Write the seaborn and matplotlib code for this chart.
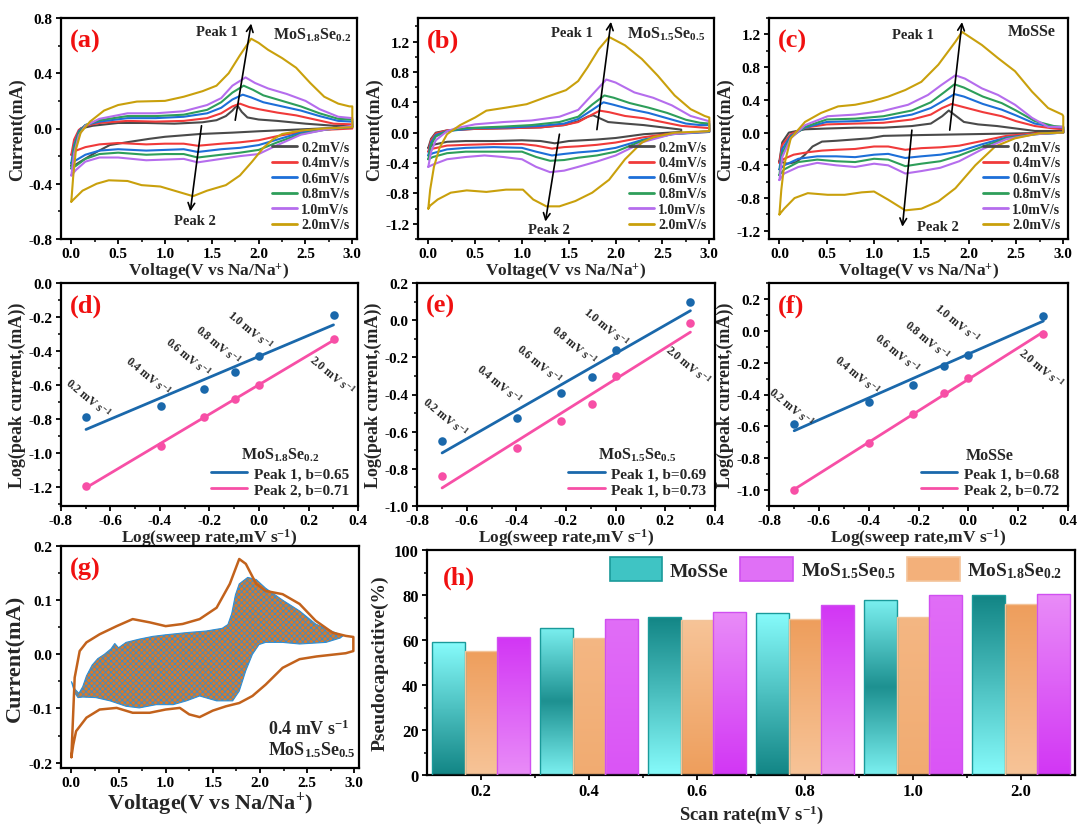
import numpy as np
import pandas as pd
import matplotlib
matplotlib.use("Agg")
import matplotlib.pyplot as plt
import seaborn as sns
from matplotlib.lines import Line2D
from matplotlib.patches import Patch
from matplotlib.colors import LinearSegmentedColormap
from matplotlib.ticker import MultipleLocator, FormatStrFormatter

# ---------------------------------------------------------------- data
RATE_LABELS = ["0.2mV/s", "0.4mV/s", "0.6mV/s", "0.8mV/s", "1.0mV/s", "2.0mV/s"]
SCAN_RATES = [0.2, 0.4, 0.6, 0.8, 1.0, 2.0]

# Cyclic voltammograms (V, mA): anodic sweep followed by cathodic sweep
A_02 = [(0, -0.27), (0.04, -0.12), (0.1, 0.0), (0.23, 0.02), (0.5, 0.04), (0.8, 0.04), (1.1, 0.035),
        (1.4, 0.045), (1.55, 0.06), (1.65, 0.09), (1.72, 0.13), (1.77, 0.17), (1.82, 0.12), (1.88, 0.08),
        (2.0, 0.065), (2.2, 0.055), (2.5, 0.035), (2.8, 0.02), (3.0, 0.02),
        (3.0, 0.01), (2.5, -0.005), (2.0, -0.02), (1.72, -0.03), (1.37, -0.04), (1.0, -0.06), (0.83, -0.075),
        (0.59, -0.1), (0.41, -0.12), (0.27, -0.17), (0.12, -0.23), (0.05, -0.26), (0, -0.27)]
A_04 = [(0, -0.19), (0.03, -0.08), (0.08, -0.01), (0.15, 0.02), (0.3, 0.04), (0.6, 0.055), (0.9, 0.05),
        (1.2, 0.055), (1.45, 0.075), (1.6, 0.11), (1.72, 0.16), (1.8, 0.18), (1.9, 0.155), (2.0, 0.14),
        (2.2, 0.115), (2.4, 0.095), (2.6, 0.065), (2.8, 0.035), (3.0, 0.03),
        (3.0, 0.0), (2.7, -0.01), (2.4, -0.03), (2.2, -0.055), (2.0, -0.085), (1.8, -0.1), (1.6, -0.11),
        (1.35, -0.125), (1.2, -0.11), (1.0, -0.11), (0.8, -0.115), (0.5, -0.105), (0.3, -0.115),
        (0.15, -0.135), (0.05, -0.16), (0, -0.19)]
A_06 = [(0, -0.25), (0.03, -0.12), (0.08, -0.02), (0.15, 0.025), (0.3, 0.05), (0.6, 0.075), (0.9, 0.075),
        (1.2, 0.085), (1.45, 0.11), (1.6, 0.15), (1.72, 0.21), (1.83, 0.245), (1.92, 0.225), (2.05, 0.19),
        (2.25, 0.16), (2.45, 0.13), (2.65, 0.09), (2.85, 0.055), (3.0, 0.05),
        (3.0, 0.01), (2.7, -0.005), (2.45, -0.03), (2.2, -0.08), (2.0, -0.12), (1.8, -0.14), (1.6, -0.15),
        (1.35, -0.17), (1.2, -0.15), (1.0, -0.155), (0.8, -0.16), (0.5, -0.15), (0.3, -0.16),
        (0.15, -0.19), (0.05, -0.23), (0, -0.25)]
A_08 = [(0, -0.29), (0.03, -0.14), (0.08, -0.03), (0.15, 0.025), (0.3, 0.06), (0.6, 0.09), (0.9, 0.09),
        (1.2, 0.1), (1.45, 0.135), (1.6, 0.19), (1.72, 0.26), (1.84, 0.31), (1.94, 0.28), (2.05, 0.24),
        (2.25, 0.2), (2.45, 0.16), (2.65, 0.11), (2.85, 0.07), (3.0, 0.065),
        (3.0, 0.015), (2.7, -0.01), (2.45, -0.04), (2.2, -0.1), (2.0, -0.155), (1.8, -0.175), (1.6, -0.19),
        (1.35, -0.21), (1.2, -0.185), (1.0, -0.185), (0.8, -0.19), (0.5, -0.175), (0.3, -0.185),
        (0.15, -0.22), (0.05, -0.27), (0, -0.29)]
A_10 = [(0, -0.34), (0.03, -0.18), (0.08, -0.05), (0.15, 0.02), (0.3, 0.07), (0.6, 0.11), (0.9, 0.11),
        (1.2, 0.125), (1.45, 0.17), (1.6, 0.22), (1.72, 0.31), (1.86, 0.37), (1.96, 0.33), (2.1, 0.29),
        (2.3, 0.25), (2.5, 0.2), (2.65, 0.14), (2.85, 0.085), (3.0, 0.075),
        (3.0, 0.02), (2.7, -0.01), (2.45, -0.045), (2.2, -0.12), (2.0, -0.185), (1.8, -0.2), (1.6, -0.22),
        (1.35, -0.245), (1.2, -0.22), (1.0, -0.225), (0.8, -0.23), (0.5, -0.21), (0.3, -0.21),
        (0.15, -0.24), (0.05, -0.3), (0, -0.34)]
A_20 = [(0, -0.53), (0.02, -0.35), (0.05, -0.15), (0.1, -0.03), (0.2, 0.05), (0.35, 0.13), (0.5, 0.17),
        (0.7, 0.195), (1.0, 0.2), (1.2, 0.23), (1.4, 0.27), (1.55, 0.31), (1.68, 0.4), (1.8, 0.53),
        (1.92, 0.65), (2.0, 0.62), (2.1, 0.57), (2.25, 0.51), (2.4, 0.44), (2.55, 0.33), (2.7, 0.23),
        (2.85, 0.18), (2.97, 0.16), (3.0, 0.16),
        (3.0, 0.01), (2.7, 0.0), (2.45, -0.015), (2.25, -0.04), (2.15, -0.08), (2.05, -0.14), (1.93, -0.24),
        (1.8, -0.34), (1.65, -0.41), (1.45, -0.45), (1.3, -0.49), (1.15, -0.46), (0.95, -0.42),
        (0.75, -0.41), (0.6, -0.38), (0.4, -0.375), (0.27, -0.4), (0.12, -0.45), (0.03, -0.51), (0, -0.53)]

B_02 = [(0, -0.2), (0.03, -0.08), (0.08, 0.0), (0.2, 0.03), (0.5, 0.05), (0.9, 0.06), (1.2, 0.07),
        (1.45, 0.1), (1.6, 0.15), (1.7, 0.21), (1.76, 0.23), (1.83, 0.19), (1.92, 0.14), (2.1, 0.12),
        (2.3, 0.1), (2.5, 0.07), (2.7, 0.04),
        (2.7, 0.01), (2.3, -0.02), (2.0, -0.07), (1.8, -0.09), (1.5, -0.11), (1.35, -0.14), (1.2, -0.11),
        (1.0, -0.1), (0.7, -0.11), (0.4, -0.11), (0.2, -0.12), (0.05, -0.16), (0, -0.2)]
B_04 = [(0, -0.25), (0.03, -0.1), (0.08, -0.01), (0.2, 0.03), (0.5, 0.05), (0.9, 0.06), (1.2, 0.07),
        (1.45, 0.1), (1.6, 0.14), (1.72, 0.22), (1.83, 0.29), (1.93, 0.27), (2.1, 0.22), (2.3, 0.19),
        (2.5, 0.14), (2.7, 0.09), (2.9, 0.07), (3.0, 0.06),
        (3.0, 0.01), (2.6, -0.01), (2.3, -0.06), (2.0, -0.13), (1.8, -0.16), (1.6, -0.18), (1.45, -0.19),
        (1.32, -0.21), (1.15, -0.17), (1.0, -0.15), (0.7, -0.15), (0.4, -0.16), (0.2, -0.17),
        (0.05, -0.21), (0, -0.25)]
B_06 = [(0, -0.3), (0.03, -0.13), (0.08, -0.03), (0.2, 0.02), (0.5, 0.06), (0.9, 0.07), (1.2, 0.09),
        (1.45, 0.12), (1.6, 0.18), (1.75, 0.3), (1.87, 0.4), (1.97, 0.37), (2.15, 0.31), (2.35, 0.26),
        (2.55, 0.19), (2.75, 0.12), (2.9, 0.1), (3.0, 0.1),
        (3.0, 0.01), (2.6, -0.02), (2.3, -0.09), (2.0, -0.2), (1.8, -0.24), (1.6, -0.26), (1.45, -0.28),
        (1.32, -0.3), (1.15, -0.25), (1.0, -0.2), (0.7, -0.19), (0.4, -0.2), (0.2, -0.22),
        (0.05, -0.27), (0, -0.3)]
B_08 = [(0, -0.35), (0.03, -0.16), (0.08, -0.05), (0.2, 0.02), (0.4, 0.06), (0.8, 0.08), (1.1, 0.1),
        (1.4, 0.14), (1.6, 0.21), (1.75, 0.37), (1.88, 0.49), (1.98, 0.46), (2.15, 0.39), (2.35, 0.33),
        (2.55, 0.26), (2.75, 0.17), (2.9, 0.13), (3.0, 0.12),
        (3.0, 0.02), (2.6, -0.02), (2.3, -0.1), (2.0, -0.25), (1.8, -0.3), (1.6, -0.33), (1.45, -0.36),
        (1.3, -0.37), (1.15, -0.32), (1.0, -0.25), (0.7, -0.25), (0.4, -0.25), (0.2, -0.27),
        (0.05, -0.32), (0, -0.35)]
B_10 = [(0, -0.45), (0.03, -0.25), (0.08, -0.1), (0.2, 0.02), (0.3, 0.06), (0.5, 0.11), (0.8, 0.14),
        (1.1, 0.16), (1.4, 0.21), (1.6, 0.3), (1.75, 0.5), (1.9, 0.7), (2.0, 0.66), (2.2, 0.53),
        (2.4, 0.46), (2.6, 0.36), (2.8, 0.22), (3.0, 0.15),
        (3.0, 0.02), (2.6, -0.02), (2.3, -0.12), (2.0, -0.3), (1.8, -0.38), (1.6, -0.45), (1.45, -0.5),
        (1.3, -0.52), (1.15, -0.45), (1.0, -0.35), (0.8, -0.32), (0.6, -0.3), (0.4, -0.32), (0.2, -0.35),
        (0.05, -0.42), (0, -0.45)]
B_20 = [(0, -1.0), (0.02, -0.75), (0.06, -0.45), (0.12, -0.2), (0.2, -0.02), (0.34, 0.1), (0.5, 0.2),
        (0.62, 0.29), (0.83, 0.33), (1.05, 0.375), (1.26, 0.47), (1.47, 0.56), (1.6, 0.68), (1.7, 0.86),
        (1.82, 1.1), (1.93, 1.26), (2.1, 1.15), (2.28, 0.97), (2.45, 0.75), (2.63, 0.49), (2.8, 0.31),
        (2.95, 0.22), (3.0, 0.2),
        (3.0, 0.02), (2.63, 0.0), (2.4, -0.06), (2.28, -0.13), (2.1, -0.35), (1.93, -0.62), (1.75, -0.79),
        (1.57, -0.9), (1.4, -0.97), (1.26, -0.97), (1.12, -0.88), (1.01, -0.75), (0.83, -0.75),
        (0.62, -0.78), (0.41, -0.76), (0.24, -0.79), (0.1, -0.88), (0.02, -0.96), (0, -1.0)]

C_02 = [(0, -0.35), (0.03, -0.12), (0.1, 0.0), (0.27, 0.04), (0.5, 0.05), (0.8, 0.06), (1.1, 0.06),
        (1.4, 0.08), (1.6, 0.11), (1.72, 0.2), (1.79, 0.27), (1.87, 0.2), (1.95, 0.13), (2.1, 0.1),
        (2.3, 0.08), (2.5, 0.05), (2.7, 0.02), (3.0, 0.02),
        (3.0, 0.0), (2.5, -0.01), (2.0, -0.02), (1.5, -0.03), (1.1, -0.04), (0.95, -0.07), (0.6, -0.1),
        (0.45, -0.11), (0.35, -0.17), (0.27, -0.27), (0.18, -0.36), (0.08, -0.38), (0, -0.35)]
C_04 = [(0, -0.37), (0.03, -0.15), (0.12, -0.02), (0.27, 0.06), (0.5, 0.1), (0.8, 0.11), (1.1, 0.12),
        (1.4, 0.16), (1.6, 0.22), (1.72, 0.3), (1.82, 0.35), (1.95, 0.31), (2.15, 0.25), (2.35, 0.2),
        (2.5, 0.14), (2.7, 0.08), (2.9, 0.05), (3.0, 0.04),
        (3.0, 0.0), (2.7, -0.01), (2.4, -0.04), (2.15, -0.1), (1.9, -0.16), (1.7, -0.18), (1.5, -0.19),
        (1.33, -0.21), (1.15, -0.17), (1.0, -0.17), (0.8, -0.2), (0.6, -0.21), (0.45, -0.22),
        (0.3, -0.24), (0.15, -0.27), (0.05, -0.32), (0, -0.37)]
C_06 = [(0, -0.45), (0.03, -0.2), (0.12, -0.04), (0.27, 0.06), (0.5, 0.13), (0.8, 0.14), (1.1, 0.16),
        (1.4, 0.22), (1.6, 0.3), (1.75, 0.4), (1.85, 0.47), (1.95, 0.44), (2.15, 0.35), (2.35, 0.28),
        (2.5, 0.21), (2.7, 0.11), (2.9, 0.07), (3.0, 0.06),
        (3.0, 0.0), (2.7, -0.02), (2.4, -0.06), (2.15, -0.14), (1.9, -0.23), (1.7, -0.27), (1.5, -0.29),
        (1.33, -0.31), (1.15, -0.26), (1.0, -0.27), (0.8, -0.3), (0.6, -0.29), (0.4, -0.29),
        (0.2, -0.32), (0.05, -0.4), (0, -0.45)]
C_08 = [(0, -0.52), (0.03, -0.25), (0.12, -0.06), (0.27, 0.07), (0.5, 0.16), (0.8, 0.17), (1.1, 0.2),
        (1.4, 0.27), (1.6, 0.37), (1.75, 0.5), (1.85, 0.59), (1.95, 0.55), (2.15, 0.44), (2.35, 0.36),
        (2.5, 0.27), (2.7, 0.14), (2.9, 0.08), (3.0, 0.07),
        (3.0, 0.0), (2.7, -0.02), (2.4, -0.07), (2.15, -0.17), (1.9, -0.28), (1.7, -0.35), (1.5, -0.38),
        (1.33, -0.41), (1.15, -0.33), (1.0, -0.32), (0.8, -0.36), (0.6, -0.35), (0.4, -0.33),
        (0.2, -0.36), (0.05, -0.45), (0, -0.52)]
C_10 = [(0, -0.58), (0.03, -0.3), (0.12, -0.07), (0.27, 0.09), (0.51, 0.2), (0.8, 0.22), (1.08, 0.26),
        (1.36, 0.34), (1.57, 0.46), (1.71, 0.58), (1.86, 0.7), (1.96, 0.66), (2.14, 0.54), (2.31, 0.46),
        (2.49, 0.34), (2.67, 0.18), (2.84, 0.07), (3.0, 0.07),
        (3.0, 0.0), (2.7, -0.02), (2.4, -0.08), (2.15, -0.2), (1.9, -0.35), (1.7, -0.43), (1.5, -0.47),
        (1.33, -0.5), (1.15, -0.4), (1.0, -0.38), (0.8, -0.42), (0.6, -0.4), (0.4, -0.37), (0.2, -0.42),
        (0.05, -0.5), (0, -0.58)]
C_20 = [(0, -1.0), (0.02, -0.7), (0.05, -0.4), (0.12, -0.07), (0.27, 0.13), (0.44, 0.24), (0.62, 0.32),
        (0.8, 0.34), (0.97, 0.38), (1.15, 0.44), (1.33, 0.52), (1.5, 0.62), (1.68, 0.83), (1.86, 1.11),
        (1.93, 1.23), (2.14, 1.07), (2.31, 0.91), (2.49, 0.75), (2.67, 0.5), (2.84, 0.3), (2.99, 0.22),
        (3.0, 0.2),
        (3.0, 0.0), (2.74, -0.01), (2.49, -0.07), (2.28, -0.17), (2.07, -0.4), (1.86, -0.68), (1.68, -0.84),
        (1.5, -0.93), (1.33, -0.95), (1.15, -0.82), (1.0, -0.72), (0.87, -0.73), (0.69, -0.76),
        (0.51, -0.76), (0.3, -0.74), (0.16, -0.8), (0.05, -0.93), (0, -1.0)]

# log(peak current) for each sample
D_PEAK1 = [-0.79, -0.72, -0.62, -0.52, -0.43, -0.19]
D_PEAK2 = [-1.19, -0.96, -0.79, -0.68, -0.60, -0.33]
E_PEAK1 = [-0.65, -0.525, -0.39, -0.305, -0.16, 0.10]
E_PEAK2 = [-0.84, -0.69, -0.54, -0.45, -0.30, -0.015]
F_PEAK1 = [-0.585, -0.445, -0.34, -0.22, -0.15, 0.095]
F_PEAK2 = [-1.0, -0.705, -0.52, -0.39, -0.295, -0.02]

# Capacitive separation at 0.4 mV/s for MoS1.5Se0.5
G_TOTAL = [(0, -0.19), (0.035, -0.043), (0.088, 0.006), (0.16, 0.022), (0.3, 0.037), (0.48, 0.052),
           (0.65, 0.065), (0.83, 0.059), (1.0, 0.052), (1.18, 0.056), (1.36, 0.065), (1.54, 0.086),
           (1.68, 0.13), (1.78, 0.176), (1.85, 0.167), (1.96, 0.13), (2.06, 0.117), (2.24, 0.111),
           (2.42, 0.093), (2.59, 0.062), (2.77, 0.04), (2.91, 0.034), (2.99, 0.032),
           (2.99, 0.006), (2.91, 0.002), (2.6, -0.004), (2.42, -0.009), (2.24, -0.025), (2.06, -0.056),
           (1.92, -0.077), (1.78, -0.09), (1.64, -0.096), (1.5, -0.104), (1.36, -0.116), (1.25, -0.111),
           (1.15, -0.099), (1.0, -0.102), (0.83, -0.108), (0.65, -0.108), (0.48, -0.099), (0.3, -0.102),
           (0.16, -0.117), (0.05, -0.142), (0.02, -0.167), (0, -0.19)]
G_CAPACITIVE = [(0.0, -0.05), (0.04, -0.065), (0.08, -0.072), (0.12, -0.06), (0.16, -0.04), (0.22, -0.02),
                (0.28, -0.008), (0.35, 0.0), (0.42, 0.01), (0.46, 0.02), (0.5, 0.012), (0.58, 0.022),
                (0.65, 0.025), (0.72, 0.028), (0.86, 0.033), (1.0, 0.036), (1.22, 0.04), (1.43, 0.043),
                (1.6, 0.048), (1.66, 0.055), (1.7, 0.075), (1.74, 0.11), (1.78, 0.13), (1.87, 0.142),
                (1.96, 0.138), (2.06, 0.122), (2.24, 0.1), (2.42, 0.08), (2.59, 0.056), (2.77, 0.042),
                (2.88, 0.034), (2.85, 0.03), (2.7, 0.022), (2.42, 0.019), (2.24, 0.022), (2.06, 0.022),
                (1.99, 0.018), (1.92, 0.0), (1.85, -0.03), (1.78, -0.068), (1.71, -0.086), (1.54, -0.086),
                (1.36, -0.077), (1.22, -0.086), (1.08, -0.093), (0.9, -0.093), (0.72, -0.099),
                (0.58, -0.096), (0.41, -0.086), (0.26, -0.08), (0.12, -0.079), (0.07, -0.08),
                (0.035, -0.071), (0.0, -0.05)]

# Pseudocapacitive contribution (%)
BAR_RATES = ["0.2", "0.4", "0.6", "0.8", "1.0", "2.0"]
PC_MOSSE = [59.0, 65.5, 70.3, 72.0, 78.0, 79.8]
PC_MOS18 = [55.2, 61.0, 69.0, 69.2, 70.3, 76.2]
PC_MOS15 = [61.3, 69.5, 72.5, 75.6, 80.0, 80.4]

# ---------------------------------------------------------------- style
sns.set_theme(style="ticks")
plt.rcParams.update({
    "font.family": ["Liberation Serif", "DejaVu Serif"],
    "font.weight": "bold",
    "axes.labelweight": "bold",
    "mathtext.fontset": "custom",
    "mathtext.rm": "Liberation Serif:bold",
    "mathtext.it": "Liberation Serif:italic:bold",
    "mathtext.bf": "Liberation Serif:bold",
    "mathtext.default": "rm",
    "axes.linewidth": 1.6,
    "axes.edgecolor": "black",
    "xtick.direction": "out",
    "ytick.direction": "out",
    "xtick.major.size": 3.5,
    "ytick.major.size": 3.5,
    "xtick.minor.size": 2.0,
    "ytick.minor.size": 2.0,
    "xtick.major.width": 1.3,
    "ytick.major.width": 1.3,
    "xtick.minor.width": 1.1,
    "ytick.minor.width": 1.1,
    "xtick.major.pad": 2.5,
    "ytick.major.pad": 2.5,
    "xtick.color": "black",
    "ytick.color": "black",
    "xtick.labelsize": 11,
    "ytick.labelsize": 11,
    "hatch.linewidth": 0.55,
})

CV_COLORS = ["#4a4a4a", "#f03a3a", "#1d6fd8", "#2e9e5a", "#b56ded", "#c9a00c"]
BLUE = "#1a68ab"
PINK = "#f74fa6"
RED = "#f01010"

fig = plt.figure(figsize=(10.78, 8.29), dpi=100)
W, H = 1078.0, 829.0


def add_axes(left, top, right, bottom):
    ax = fig.add_axes([left / W, 1 - bottom / H, (right - left) / W, (bottom - top) / H])
    ax.patch.set_alpha(0)
    return ax


def panel_tag(ax, tag):
    ax.text(0.03, 0.9, tag, transform=ax.transAxes, color=RED, fontsize=19,
            fontweight="bold", ha="left", va="center")


def cv_panel(ax, curves, ylim, tag, sample, peak1_txt, peak2_txt, arrow1, arrow2, sample_xy):
    for pts, color in zip(curves, CV_COLORS):
        v = [p[0] for p in pts]
        i = [p[1] for p in pts]
        sns.lineplot(x=v, y=i, sort=False, estimator=None, color=color, lw=1.5, ax=ax)
    ax.set_xlim(-0.11, 3.05)
    ax.set_ylim(*ylim)
    ax.xaxis.set_major_locator(MultipleLocator(0.5))
    ax.xaxis.set_minor_locator(MultipleLocator(0.25))
    ax.yaxis.set_major_locator(MultipleLocator(0.4))
    ax.yaxis.set_minor_locator(MultipleLocator(0.2))
    ax.yaxis.set_major_formatter(FormatStrFormatter("%.1f"))
    ax.xaxis.set_major_formatter(FormatStrFormatter("%.1f"))
    ax.set_xlabel("Voltage(V vs Na/Na$^{+}$)", fontsize=12.5, labelpad=0)
    ax.set_ylabel("Current(mA)", fontsize=13, labelpad=2)
    panel_tag(ax, tag)
    ax.text(*sample_xy, sample, fontsize=11.5, ha="center", va="center")
    ax.text(*peak1_txt, "Peak 1", fontsize=10.5, ha="center", va="center")
    ax.text(*peak2_txt, "Peak 2", fontsize=10.5, ha="center", va="center")
    for (xs, ys), (xe, ye) in (arrow1, arrow2):
        ax.annotate("", xy=(xe, ye), xytext=(xs, ys),
                    arrowprops=dict(arrowstyle="->", color="black", lw=1.2,
                                    mutation_scale=12, shrinkA=0, shrinkB=0))
    handles = [Line2D([], [], color=c, lw=2) for c in CV_COLORS]
    ax.legend(handles, RATE_LABELS, loc="lower right", frameon=False, fontsize=10,
              handlelength=1.8, handletextpad=0.3, labelspacing=0.18, borderaxespad=0.15)


ax_a = add_axes(61, 19, 357, 240)
cv_panel(ax_a, [A_02, A_04, A_06, A_08, A_10, A_20], (-0.8, 0.8), "(a)",
         "MoS$_{1.8}$Se$_{0.2}$", (1.55, 0.70), (1.32, -0.665),
         ((1.75, 0.06), (1.92, 0.76)), ((1.39, 0.02), (1.27, -0.6)), (2.57, 0.68))

ax_b = add_axes(418, 19, 714, 240)
cv_panel(ax_b, [B_02, B_04, B_06, B_08, B_10, B_20], (-1.4, 1.51), "(b)",
         "MoS$_{1.5}$Se$_{0.5}$", (1.53, 1.32), (1.29, -1.27),
         ((1.8, 0.04), (1.95, 1.46)), ((1.4, -0.02), (1.25, -1.17)), (2.54, 1.31))

ax_c = add_axes(769, 19, 1068, 240)
cv_panel(ax_c, [C_02, C_04, C_06, C_08, C_10, C_20], (-1.3, 1.4), "(c)",
         "MoSSe", (1.41, 1.2), (1.68, -1.15),
         ((1.8, 0.03), (1.93, 1.35)), ((1.4, 0.03), (1.3, -1.15)), (2.67, 1.24))

# ------------------------------------------------------------ b-value fits
LOG_RATE = list(np.log10(SCAN_RATES))


def fit_panel(ax, p1, p2, ylim, tag, sample, labels, label_xy):
    sns.regplot(x=LOG_RATE, y=p1, ci=None, color=BLUE, ax=ax, truncate=True,
                scatter_kws=dict(s=38, zorder=3, linewidths=0, alpha=1),
                line_kws=dict(lw=2))
    sns.regplot(x=LOG_RATE, y=p2, ci=None, color=PINK, ax=ax, truncate=True,
                scatter_kws=dict(s=38, zorder=3, linewidths=0, alpha=1),
                line_kws=dict(lw=2))
    ax.set_xlim(-0.8, 0.4)
    ax.set_ylim(*ylim)
    ax.xaxis.set_major_locator(MultipleLocator(0.2))
    ax.xaxis.set_minor_locator(MultipleLocator(0.1))
    ax.yaxis.set_major_locator(MultipleLocator(0.2))
    ax.yaxis.set_minor_locator(MultipleLocator(0.1))
    ax.yaxis.set_major_formatter(FormatStrFormatter("%.1f"))
    ax.xaxis.set_major_formatter(FormatStrFormatter("%.1f"))
    ax.set_xlabel("Log(sweep rate,mV s$^{-1}$)", fontsize=12.5, labelpad=-1)
    ax.set_ylabel("Log(peak current,(mA))", fontsize=13, labelpad=2)
    panel_tag(ax, tag)
    for r, (x, y) in zip(SCAN_RATES, label_xy):
        ax.text(x, y, f"{r:.1f} mV s$^{{-1}}$", fontsize=8.5, rotation=-40,
                ha="center", va="center", rotation_mode="anchor")
    handles = [Line2D([], [], color=BLUE, lw=2), Line2D([], [], color=PINK, lw=2)]
    leg = ax.legend(handles, labels, title=sample, loc="lower right", frameon=False,
                    fontsize=11, title_fontsize=11.5, handlelength=2.4, handletextpad=0.4,
                    labelspacing=0.2, borderaxespad=0.2)
    leg.get_title().set_fontweight("bold")


ax_d = add_axes(61, 284, 358, 507)
fit_panel(ax_d, D_PEAK1, D_PEAK2, (-1.31, 0.0), "(d)", "MoS$_{1.8}$Se$_{0.2}$",
          ["Peak 1, b=0.65", "Peak 2, b=0.71"],
          [(-0.69, -0.67), (-0.447, -0.544), (-0.286, -0.43), (-0.165, -0.358), (-0.037, -0.27),
           (0.293, -0.534)])

ax_e = add_axes(417, 284, 715, 507)
fit_panel(ax_e, E_PEAK1, E_PEAK2, (-1.0, 0.2), "(e)", "MoS$_{1.5}$Se$_{0.5}$",
          ["Peak 1, b=0.69", "Peak 1, b=0.73"],
          [(-0.689, -0.517), (-0.468, -0.337), (-0.307, -0.229), (-0.166, -0.13), (-0.039, -0.03),
           (0.29, -0.238)])

ax_f = add_axes(769, 284, 1068, 507)
fit_panel(ax_f, F_PEAK1, F_PEAK2, (-1.1, 0.3), "(f)", "MoSSe",
          ["Peak 1, b=0.68", "Peak 2, b=0.72"],
          [(-0.71, -0.474), (-0.447, -0.273), (-0.286, -0.135), (-0.165, -0.05), (-0.044, 0.056),
           (0.293, -0.23)])

# ------------------------------------------------------------ capacitive split
ax_g = add_axes(61, 547, 359, 769)
gv = [p[0] for p in G_CAPACITIVE]
gi = [p[1] for p in G_CAPACITIVE]
ax_g.fill(gv, gi, facecolor="#d9792a", edgecolor="#2e8fd6", hatch="xxxxxx", lw=0.8, zorder=2)
tv = [p[0] for p in G_TOTAL]
ti = [p[1] for p in G_TOTAL]
sns.lineplot(x=tv, y=ti, sort=False, estimator=None, color="#c2621c", lw=1.8, ax=ax_g, zorder=3)
ax_g.set_xlim(-0.11, 3.05)
ax_g.set_ylim(-0.21, 0.2)
ax_g.xaxis.set_major_locator(MultipleLocator(0.5))
ax_g.xaxis.set_minor_locator(MultipleLocator(0.25))
ax_g.yaxis.set_major_locator(MultipleLocator(0.1))
ax_g.yaxis.set_minor_locator(MultipleLocator(0.05))
ax_g.yaxis.set_major_formatter(FormatStrFormatter("%.1f"))
ax_g.xaxis.set_major_formatter(FormatStrFormatter("%.1f"))
ax_g.set_xlabel("Voltage(V vs Na/Na$^{+}$)", fontsize=16, labelpad=0)
ax_g.set_ylabel("Current(mA)", fontsize=16, labelpad=2)
panel_tag(ax_g, "(g)")
ax_g.text(2.08, -0.137, "0.4 mV s$^{-1}$", fontsize=13, ha="left", va="center")
ax_g.text(2.08, -0.175, "MoS$_{1.5}$Se$_{0.5}$", fontsize=13, ha="left", va="center")

# ------------------------------------------------------------ pseudocapacitive bars
ax_h = add_axes(427, 551, 1075, 776)
SAMPLES = ["MoSSe", "MoS$_{1.8}$Se$_{0.2}$", "MoS$_{1.5}$Se$_{0.5}$"]
df = pd.DataFrame({
    "rate": BAR_RATES * 3,
    "value": PC_MOSSE + PC_MOS18 + PC_MOS15,
    "sample": [SAMPLES[0]] * 6 + [SAMPLES[1]] * 6 + [SAMPLES[2]] * 6,
})
BAR_BASE = ["#2fb0b0", "#f2ad75", "#dc52f5"]
sns.barplot(data=df, x="rate", y="value", hue="sample", hue_order=SAMPLES, order=BAR_RATES,
            palette=BAR_BASE, width=0.91, saturation=1, legend=False, ax=ax_h)

GRAD = [("#128585", "#86fbfb", "#1a9a9a"),
        ("#ee9e5c", "#f7c498", "#f3c49a"),
        ("#d236f4", "#e98cf8", "#d050f0")]
SHADE = [["rise", "dip", "fall", "rise", "dip", "fall"],
         ["fall", "flat", "rise", "fall", "flat", "fall"],
         ["fall", "flat", "rise", "fall", "flat", "rise"]]
t = np.linspace(0, 1, 128)
PROFILES = {"rise": t, "fall": 1 - t, "dip": np.abs(2 * t - 1) * 0.8 + 0.1, "flat": 0.35 + 0.3 * t}
for cont, (c0, c1, edge), shades in zip(ax_h.containers, GRAD, SHADE):
    cmap = LinearSegmentedColormap.from_list("g", [c0, c1])
    for bar, sh in zip(cont, shades):
        x0, w, h = bar.get_x(), bar.get_width(), bar.get_height()
        img = PROFILES[sh].reshape(-1, 1)
        im = ax_h.imshow(img, extent=(x0, x0 + w, 0, h), origin="lower", cmap=cmap,
                         vmin=0, vmax=1, aspect="auto", zorder=2, interpolation="bilinear")
        im.set_clip_path(bar)
        bar.set_facecolor("none")
        bar.set_edgecolor(edge)
        bar.set_linewidth(1.0)
        bar.set_zorder(3)

ax_h.set_xlim(-0.5, 5.5)
ax_h.set_ylim(0, 100)
ax_h.yaxis.set_major_locator(MultipleLocator(20))
ax_h.yaxis.set_minor_locator(MultipleLocator(10))
ax_h.set_xticks([0.5, 1.5, 2.5, 3.5, 4.5], minor=True)
ax_h.tick_params(axis="both", labelsize=12)
ax_h.set_xlabel("Scan rate(mV s$^{-1}$)", fontsize=13.5, labelpad=2)
ax_h.set_ylabel("Pseudocapacitive(%)", fontsize=14, labelpad=4)
ax_h.text(0.025, 0.88, "(h)", transform=ax_h.transAxes, color=RED, fontsize=19,
          fontweight="bold", ha="left", va="center")
leg_handles = [Patch(facecolor="#3fc4c4", edgecolor="#1a9a9a", lw=1.2),
               Patch(facecolor="#e070f6", edgecolor="#d050f0", lw=1.2),
               Patch(facecolor="#f3b07a", edgecolor="#f3c49a", lw=1.2)]
ax_h.legend(leg_handles, ["MoSSe", "MoS$_{1.5}$Se$_{0.5}$", "MoS$_{1.8}$Se$_{0.2}$"],
            loc="center left", bbox_to_anchor=(0.255, 0.915), ncol=3, frameon=False,
            fontsize=14, handlelength=2.7, handleheight=1.5, handletextpad=0.4,
            columnspacing=0.6)

for ax in (ax_a, ax_b, ax_c, ax_d, ax_e, ax_f, ax_g, ax_h):
    for s in ax.spines.values():
        s.set_visible(True)
        s.set_linewidth(1.6)
    for lab in ax.get_xticklabels() + ax.get_yticklabels():
        lab.set_fontweight("bold")

fig.savefig("out.png", dpi=100)
